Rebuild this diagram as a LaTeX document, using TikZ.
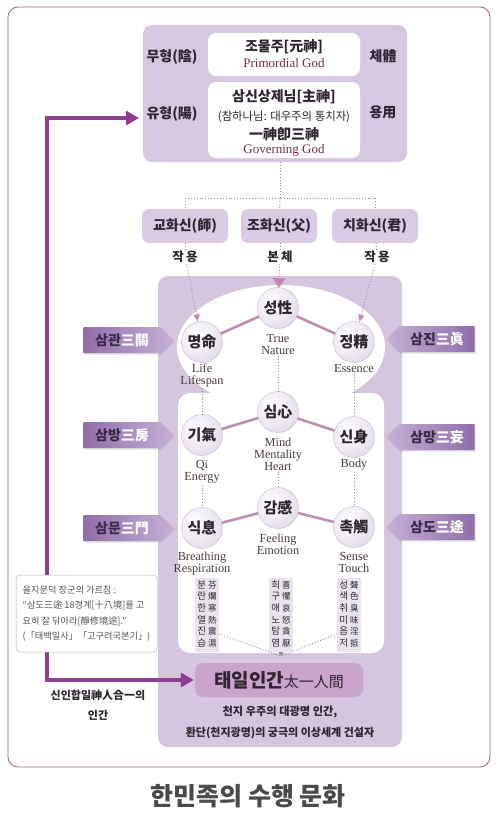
\documentclass[tikz,border=0pt]{standalone}
\usepackage{fontspec}
\setmainfont{Liberation Serif}
\newfontfamily\kr{Noto Sans CJK KR}
\usetikzlibrary{shapes.symbols,shadows,arrows.meta,calc}
\definecolor{panelc}{HTML}{D7C8E1}
\definecolor{bigpanelc}{HTML}{D5C5DF}
\definecolor{godbox}{HTML}{D9CBE3}
\definecolor{solc}{HTML}{BA8FB0}
\definecolor{pinkc}{HTML}{C08AB4}
\definecolor{taeilc}{HTML}{C9A4CB}
\definecolor{arrc}{HTML}{8C3F8E}
\definecolor{sigdark}{HTML}{8F6EAA}
\definecolor{siglight}{HTML}{C6B0D6}
\definecolor{framec}{HTML}{9A6A78}
\definecolor{engc}{HTML}{4A3C3C}
\definecolor{maroonc}{HTML}{6E2E45}
\definecolor{txtc}{HTML}{2E2530}
\definecolor{dotc}{HTML}{8C8C8C}
\definecolor{colbg}{HTML}{E8E3EC}
\definecolor{sigtxt}{HTML}{3A2A48}
\definecolor{sphA}{HTML}{EEE9F2}
\definecolor{sphB}{HTML}{D6CBE0}
\definecolor{sphC}{HTML}{BDAFCB}
\definecolor{titlec}{HTML}{4A4A4A}
\pgfdeclareradialshading{sph}{\pgfpoint{-9bp}{9bp}}{color(0bp)=(white); color(22bp)=(sphA); color(46bp)=(sphB); color(62bp)=(sphC); color(90bp)=(sphC)}
\begin{document}
\begin{tikzpicture}[x=1pt,y=-1pt,
  krt/.style={font=\kr\bfseries\fontsize{14}{16}\selectfont, text=txtc, inner sep=1pt},
  eng/.style={font=\fontsize{12.3}{12}\selectfont, align=center, text=engc, inner sep=1pt},
  dotl/.style={draw=dotc, dotted, line width=0.9pt},
  pinkdot/.style={draw=pinkc, dotted, line width=1pt, -{Triangle[length=7pt,width=6pt]}},
  sol/.style={draw=solc, line width=2.6pt},
  circ/.style={circle, minimum size=41pt, inner sep=0pt, shading=sph, draw=sphC, line width=0.3pt, font=\kr\bfseries\fontsize{15}{15}\selectfont, text=txtc},
  godb/.style={rectangle, rounded corners=7pt, fill=godbox, minimum height=34pt, font=\kr\bfseries\fontsize{14}{14}\selectfont, text=txtc},
  whiteb/.style={rectangle, rounded corners=8pt, fill=white, minimum width=152pt},
  lsig/.style={signal, signal to=east, minimum width=90pt, minimum height=26pt, inner sep=0pt, left color=sigdark, right color=siglight, font=\kr\bfseries\fontsize{14}{14}\selectfont, text=sigtxt, drop shadow={opacity=0.25, shadow xshift=1pt, shadow yshift=-1.5pt}},
  rsig/.style={signal, signal to=west, minimum width=88pt, minimum height=26pt, inner sep=0pt, left color=siglight, right color=sigdark, font=\kr\bfseries\fontsize{14}{14}\selectfont, text=sigtxt, drop shadow={opacity=0.25, shadow xshift=1pt, shadow yshift=-1.5pt}},
  colbox/.style={rectangle, fill=colbg, inner sep=2pt, text=txtc},
  bigarr/.style={draw=arrc, line width=3.5pt, {Triangle[length=13pt,width=14pt]}-{Triangle[length=13pt,width=14pt]}, shorten <=4pt, shorten >=1pt},
]
\useasboundingbox (0,0) rectangle (496,814);
% outer frame
\draw[draw=framec, line width=0.8pt, rounded corners=10pt] (8,7) rectangle (490,767);

% top panel
\node[rectangle, rounded corners=9pt, fill=panelc, minimum width=264pt, minimum height=137pt] (top) at (275,93.5) {};
\node[whiteb, minimum height=43pt] (wb1) at (284,54.5) {};
\node[whiteb, minimum height=76pt] (wb2) at (284,120) {};
\node[krt] (t1a) at (284,47) {조물주[元神]};
\node[eng, text=maroonc, font=\fontsize{13}{13}\selectfont] (t1b) at (284,63) {Primordial God};
\node[krt] (t2a) at (284,97) {삼신상제님[主神]};
\node[krt, font=\kr\fontsize{11.4}{12}\selectfont] (t2b) at (284,117) {(참하나님: 대우주의 통치자)};
\node[krt] (t2c) at (284,134) {一神卽三神};
\node[eng, text=maroonc, font=\fontsize{13}{13}\selectfont] (t2d) at (284,150) {Governing God};
\node[krt] (mh) at (172,57) {무형(陰)};
\node[krt] (yh) at (172,114) {유형(陽)};
\node[krt] (ch) at (383,56) {체體};
\node[krt] (yy) at (383,112) {용用};

% three gods
\coordinate (j0) at (280,198);
\coordinate (jl) at (185,198);
\coordinate (jr) at (375,198);
\node[godb, minimum width=86pt] (b1) at (185,226) {교화신(師)};
\node[godb, minimum width=76pt] (b2) at (279,226) {조화신(父)};
\node[godb, minimum width=86pt] (b3) at (375,226) {치화신(君)};
\draw[dotl] (top.south -| j0) -- (j0);
\draw[dotl] (jl) -- (jr);
\draw[dotl] (jl) -- (b1);
\draw[dotl] (jr) -- (b3);
\draw[dotl] (j0) -- (b2);
\node[krt, font=\kr\bfseries\fontsize{12.5}{12.5}\selectfont] (l1) at (185,257) {작\,용};
\node[krt, font=\kr\bfseries\fontsize{12.5}{12.5}\selectfont] (l2) at (280,257) {본\,체};
\node[krt, font=\kr\bfseries\fontsize{12.5}{12.5}\selectfont] (l3) at (377,257) {작\,용};
\draw[dotl] (b1) -- (l1);
\draw[dotl] (b2.south -| l2) -- (l2);
\draw[dotl] (b3) -- (l3);

% big panel
\node[rectangle, rounded corners=10pt, fill=bigpanelc, minimum width=244pt, minimum height=471pt] (big) at (280,511.5) {};
\fill[white] (281,347) ellipse [x radius=104, y radius=62];
\fill[white, rounded corners=12pt] (178,393) rectangle (384,653);

% side labels
\node[lsig] (s1) at (122,340) {삼관{\color{white}三關}};
\node[lsig] (s2) at (122,435) {삼방{\color{white}三房}};
\node[lsig] (s3) at (122,528) {삼문{\color{white}三門}};
\node[rsig] (s4) at (437,339) {삼진{\color{white}三眞}};
\node[rsig] (s5) at (437,437) {삼망{\color{white}三妄}};
\node[rsig] (s6) at (437,527) {삼도{\color{white}三途}};

% circle centres
\coordinate (sxp) at (278,308);
\coordinate (myp) at (202,342);
\coordinate (jjp) at (354,342);
\coordinate (smp) at (278,412);
\coordinate (ggp) at (202,435);
\coordinate (ssp) at (354,437);
\coordinate (gmp) at (278,508);
\coordinate (skp) at (202,528);
\coordinate (chp) at (354,527);

% arrows from gods
\draw[pinkdot, shorten >=21pt] (l1) -- (myp);
\draw[pinkdot, shorten >=21pt] (l3) -- (jjp);
\draw[draw=pinkc, dotted, line width=1pt, -{Triangle[length=10pt,width=13pt]}, shorten >=20pt] (l2) -- (sxp);

% solid connectors
\draw[sol] (myp) -- (sxp) -- (jjp);
\draw[sol] (ggp) -- (smp) -- (ssp);
\draw[sol] (skp) -- (gmp) -- (chp);

% circles
\node[circ] (sx) at (sxp) {성性};
\node[circ] (my) at (myp) {명命};
\node[circ] (jj) at (jjp) {정精};
\node[circ] (sm) at (smp) {심心};
\node[circ] (gg) at (ggp) {기氣};
\node[circ] (ss) at (ssp) {신身};
\node[circ] (gm) at (gmp) {감感};
\node[circ] (sk) at (skp) {식息};
\node[circ] (ch2) at (chp) {촉觸};

% english labels
\node[eng] (e1) at (278,345) {True\\Nature};
\node[eng] (e2) at (202,375) {Life\\Lifespan};
\node[eng] (e3) at (354,369) {Essence};
\node[eng] (e4) at (278,454) {Mind\\Mentality\\Heart};
\node[eng] (e5) at (202,472) {Qi\\Energy};
\node[eng] (e6) at (354,465) {Body};
\node[eng] (e7) at (278,544) {Feeling\\Emotion};
\node[eng] (e8) at (202,564) {Breathing\\Respiration};
\node[eng] (e9) at (354,562) {Sense\\Touch};

% dotted verticals
\draw[dotl] (e1) -- (sm);
\draw[dotl] (e4) -- (gm);
\draw[dotl] (e2) -- (gg);
\draw[dotl] (e5) -- (sk);
\draw[dotl] (e3) -- (ss);
\draw[dotl] (e6) -- (ch2);

% vertical columns
\node[colbox] (c1) at (207,615) {\kr\fontsize{9.5}{11.6}\selectfont\begin{tabular}{@{}c@{\hspace{2pt}}c@{}}분&{\fontsize{8.5}{8.5}\selectfont 芬}\\란&{\fontsize{8.5}{8.5}\selectfont 爛}\\한&{\fontsize{8.5}{8.5}\selectfont 寒}\\열&{\fontsize{8.5}{8.5}\selectfont 熱}\\진&{\fontsize{8.5}{8.5}\selectfont 震}\\습&{\fontsize{8.5}{8.5}\selectfont 濕}\end{tabular}};
\node[colbox] (c2) at (281,615) {\kr\fontsize{9.5}{11.6}\selectfont\begin{tabular}{@{}c@{\hspace{2pt}}c@{}}희&{\fontsize{8.5}{8.5}\selectfont 喜}\\구&{\fontsize{8.5}{8.5}\selectfont 懼}\\애&{\fontsize{8.5}{8.5}\selectfont 哀}\\노&{\fontsize{8.5}{8.5}\selectfont 怒}\\탐&{\fontsize{8.5}{8.5}\selectfont 貪}\\염&{\fontsize{8.5}{8.5}\selectfont 厭}\end{tabular}};
\node[colbox] (c3) at (349,615) {\kr\fontsize{9.5}{11.6}\selectfont\begin{tabular}{@{}c@{\hspace{2pt}}c@{}}성&{\fontsize{8.5}{8.5}\selectfont 聲}\\색&{\fontsize{8.5}{8.5}\selectfont 色}\\취&{\fontsize{8.5}{8.5}\selectfont 臭}\\미&{\fontsize{8.5}{8.5}\selectfont 味}\\음&{\fontsize{8.5}{8.5}\selectfont 淫}\\저&{\fontsize{8.5}{8.5}\selectfont 抵}\end{tabular}};
\coordinate (cv) at (281,656);
\draw[dotl] (c1.-58) -- (cv);
\draw[dotl] (c3.-122) -- (cv);
\draw[dotl, -{Triangle[length=4pt,width=5pt]}] (c2) -- (cv);

% taeil
\node[rectangle, rounded corners=8pt, fill=taeilc, minimum width=168pt, minimum height=34pt, text=txtc] (taeil) at (279,680) {{\kr\bfseries\fontsize{19}{19}\selectfont 태일인간}{\kr\fontsize{15}{15}\selectfont 太一人間}};
\node[krt, font=\kr\bfseries\fontsize{11.2}{12}\selectfont] (d1) at (280,712) {천지 우주의 대광명 인간,};
\node[krt, font=\kr\bfseries\fontsize{11}{12}\selectfont] (d2) at (280,733) {환단(천지광명)의 궁극의 이상세계 건설자};

% big arrow
\coordinate (pa) at (143,118);
\coordinate (ka) at (47,118);
\coordinate (kb) at (47,680);
\draw[bigarr] (pa) -- (ka) -- (kb) -- (taeil.west);

% note
\node[rectangle, rounded corners=4pt, fill=white, draw=gray!60, line width=0.5pt, minimum width=141pt, minimum height=77pt, align=left, font=\kr\fontsize{9.2}{15.3}\selectfont, text=txtc!80] (note) at (86.5,613.5) {을지문덕 장군의 가르침 :\\“삼도三途 18경계[十八境]를 고\\요히 잘 닦아라[靜修境途].”\\(「태백일사」「고구려국본기」)};
\node[krt, align=center, font=\kr\bfseries\fontsize{11}{20}\selectfont] (sin) at (98,705) {신인합일神人合一의\\인간};

% title
\node[font=\kr\bfseries\fontsize{25}{25}\selectfont, text=titlec] (ttl) at (248,796) {한민족의 수행 문화};
\end{tikzpicture}
\end{document}
